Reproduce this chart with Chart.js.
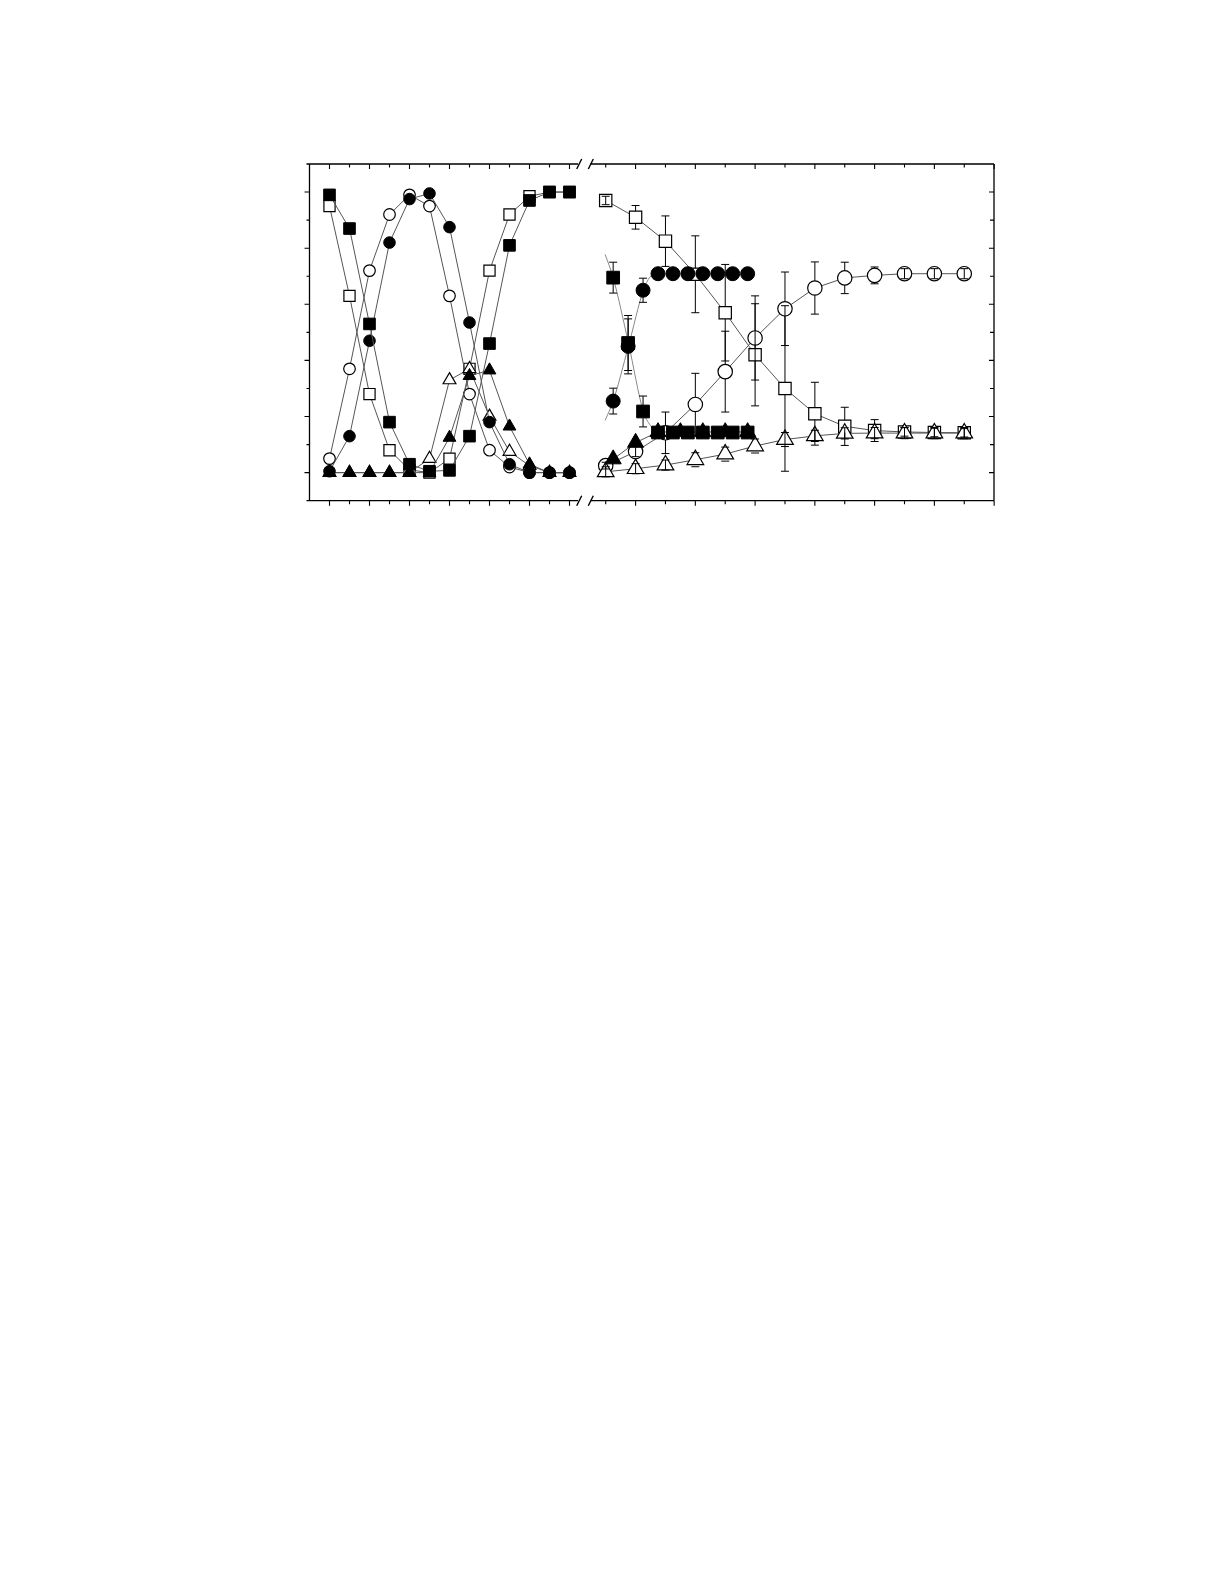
<!DOCTYPE html>
<html><head><meta charset="utf-8">
<script src="https://cdn.jsdelivr.net/npm/chart.js@4.4.0/dist/chart.umd.min.js"></script>
<style>html,body{margin:0;padding:0;background:#fff;}canvas{display:block;}</style>
</head><body>
<canvas id="c" width="1225" height="1585"></canvas>
<script>
// ---------------- DATA ----------------
// Left panel: sample index
const leftIndex = [1,2,3,4,5,6,7,8,9,10,11,12,13];
const leftFilledSquare = [0.99,0.87,0.53,0.18,0.03,0.005,0.008,0.13,0.46,0.81,0.97,1.0,1.0];
const leftOpenSquare   = [0.95,0.63,0.28,0.08,0.01,0.0,0.05,0.37,0.72,0.92,0.985,1.0,1.0];
const leftOpenCircle   = [0.05,0.37,0.72,0.92,0.99,0.95,0.63,0.28,0.08,0.02,0.0,0.0,0.0];
const leftFilledCircle = [0.005,0.13,0.47,0.82,0.975,0.995,0.875,0.535,0.18,0.03,0.0,0.0,0.0];
const leftFilledTri    = [0,0,0,0,0,0,0.125,0.345,0.365,0.165,0.03,0,0];
const leftOpenTri      = [0,0,0,0,0,0.05,0.33,0.37,0.20,0.075,0.025,0,0];

// Right panel: time
const rightT = [0,1,2,3,4,5,6,7,8,9,10,11,12];
const rightOpenSquare    = [0.97,0.91,0.825,0.707,0.57,0.42,0.30,0.21,0.165,0.15,0.145,0.143,0.142];
const rightOpenSquareErr = [0.015,0.042,0.09,0.137,0.172,0.182,0.295,0.112,0.068,0.039,0.015,0.015,0.015];
const rightOpenCircle    = [0.025,0.075,0.142,0.243,0.36,0.48,0.584,0.658,0.694,0.703,0.709,0.709,0.709];
const rightOpenCircleErr = [0.012,0.018,0.074,0.111,0.144,0.150,0.131,0.093,0.056,0.03,0.018,0.018,0.018];
const rightOpenTri       = [0.003,0.014,0.027,0.046,0.066,0.095,0.118,0.131,0.14,0.141,0.141,0.141,0.141];
const rightOpenTriErr    = [0.018,0.018,0.018,0.025,0.025,0.025,0.025,0.02,0.02,0.02,0.02,0.02,0.02];

const rightHalfT = [0.25,0.75,1.25,1.75,2.25,2.75,3.25,3.75,4.25,4.75];
const rightFilledCircle    = [0.255,0.45,0.65,0.709,0.709,0.709,0.709,0.709,0.709,0.709];
const rightFilledCircleErr = [0.046,0.098,0.043,0,0,0,0,0,0,0];
const rightFilledSquare    = [0.695,0.462,0.218,0.143,0.143,0.143,0.143,0.143,0.143,0.143];
const rightFilledSquareErr = [0.055,0.098,0.055,0,0,0,0,0,0,0];

const rightTriT = [0.25,1.0,1.75,2.5,3.25,4.0,4.75];
const rightFilledTri = [0.048,0.107,0.145,0.145,0.145,0.145,0.145];

// fitted curves
const curveDownT = [-0.02,0.25,0.76,1.26,1.54,1.7];
const curveDownV = [0.778,0.695,0.462,0.218,0.162,0.145];
const curveUpT   = [-0.02,0.25,0.76,1.26,1.48,1.65];
const curveUpV   = [0.186,0.255,0.45,0.650,0.697,0.709];

// ticks
const leftTicks  = [1,2,3,4,5,6,7,8,9,10,11,12,13];
const rightTicks = [0,1,2,3,4,5,6,7,8,9,10,11,12,13];
const yMajorTicks = [0,0.2,0.4,0.6,0.8,1.0];
const yMinorTicks = [0.1,0.3,0.5,0.7,0.9];

// ---------------- GEOMETRY ----------------
const AREA = {left:309.5, top:164, right:994, bottom:500.7};
const PX_PER_U = 20;
const U_MAX = (AREA.right - AREA.left) / PX_PER_U;
const R0 = (605.7 - AREA.left) / PX_PER_U;
const RK = 29.88 / PX_PER_U;
const leftU = i => i;
const rightU = t => R0 + t * RK;
const LEFT_END = (578 - AREA.left) / PX_PER_U;
const RIGHT_START = (590.5 - AREA.left) / PX_PER_U;

function pts(xs, ys, map) { return xs.map((v, i) => ({x: map(v), y: ys[i]})); }
function series(xs, ys, map, style, radius, filled, opts) {
  return Object.assign({
    data: pts(xs, ys, map),
    pointStyle: style, pointRadius: radius, pointHoverRadius: radius,
    pointBackgroundColor: filled ? '#000' : '#fff',
    pointBorderColor: '#000', pointBorderWidth: filled ? 1 : 1.2,
    borderColor: '#555', borderWidth: 1, tension: 0, fill: false, clip: false,
    showLine: true
  }, opts || {});
}
function curve(xs, ys) {
  return {
    data: pts(xs, ys, rightU), pointRadius: 0, pointHoverRadius: 0,
    borderColor: '#888', borderWidth: 1, fill: false, clip: false,
    cubicInterpolationMode: 'monotone', showLine: true
  };
}

const datasets = [
  // right panel (index 0 drawn on top)
  series(rightHalfT, rightFilledCircle, rightU, 'circle', 7, true, {showLine:false, errors: rightFilledCircleErr, errGap: 7}),
  series(rightHalfT, rightFilledSquare, rightU, 'rect', 9, true, {showLine:false, errors: rightFilledSquareErr, errGap: 6.4}),
  series(rightTriT, rightFilledTri, rightU, 'triangle', 9.3, true),
  series(rightT, rightOpenTri, rightU, 'triangle', 9.6, false, {errors: rightOpenTriErr, errGap: 7}),
  series(rightT, rightOpenCircle, rightU, 'circle', 7.2, false, {errors: rightOpenCircleErr, errGap: 7.2}),
  series(rightT, rightOpenSquare, rightU, 'rect', 8.7, false, {errors: rightOpenSquareErr, errGap: 6.2}),
  curve(curveDownT, curveDownV),
  curve(curveUpT, curveUpV),
  // left panel
  series(leftIndex, leftFilledSquare, leftU, 'rect', 8.2, true),
  series(leftIndex, leftFilledCircle, leftU, 'circle', 5.8, true),
  series(leftIndex, leftFilledTri, leftU, 'triangle', 7.4, true),
  series(leftIndex, leftOpenTri, leftU, 'triangle', 7.4, false),
  series(leftIndex, leftOpenCircle, leftU, 'circle', 5.8, false),
  series(leftIndex, leftOpenSquare, leftU, 'rect', 7.9, false)
];

const framePlugin = {
  id: 'frame',
  afterDatasetsDraw(chart) {
    const {ctx, chartArea: a} = chart;
    const x = chart.scales.x, y = chart.scales.y;
    const xl = a.left, xr = a.right, yt = a.top, yb = a.bottom;
    const bL = x.getPixelForValue(LEFT_END), bR = x.getPixelForValue(RIGHT_START);
    ctx.save();
    ctx.strokeStyle = '#000'; ctx.lineWidth = 1.3; ctx.lineCap = 'butt';
    ctx.beginPath();
    ctx.moveTo(xl, yt); ctx.lineTo(xl, yb);
    ctx.moveTo(xr, yt); ctx.lineTo(xr, yb);
    for (const yy of [yt, yb]) {
      ctx.moveTo(xl - 3, yy); ctx.lineTo(bL, yy);
      ctx.moveTo(bR, yy); ctx.lineTo(xr, yy);
    }
    ctx.stroke();
    // break marks
    ctx.lineWidth = 1.4;
    ctx.beginPath();
    for (const yy of [yt, yb]) {
      ctx.moveTo(bL - 1.3, yy + 5); ctx.lineTo(bL + 3.7, yy - 5);
      ctx.moveTo(bR - 2.2, yy + 5); ctx.lineTo(bR + 2.8, yy - 5);
    }
    ctx.stroke();
    // x ticks
    ctx.lineWidth = 1.1;
    ctx.beginPath();
    const xt = [];
    leftTicks.forEach(i => xt.push([x.getPixelForValue(leftU(i)), i % 2 === 1]));
    rightTicks.forEach(t => xt.push([x.getPixelForValue(rightU(t)), t % 2 === 1]));
    xt.forEach(([px, major]) => {
      const L = major ? 5 : 3.5;
      ctx.moveTo(px, yb); ctx.lineTo(px, yb + L);
      ctx.moveTo(px, yt); ctx.lineTo(px, yt + L);
    });
    // y ticks
    yMajorTicks.forEach(v => {
      const py = y.getPixelForValue(v);
      ctx.moveTo(xl, py); ctx.lineTo(xl - 5, py);
      ctx.moveTo(xr, py); ctx.lineTo(xr - 5, py);
    });
    yMinorTicks.forEach(v => {
      const py = y.getPixelForValue(v);
      ctx.moveTo(xl, py); ctx.lineTo(xl - 3, py);
      ctx.moveTo(xr, py); ctx.lineTo(xr - 4, py);
    });
    ctx.stroke();
    ctx.restore();
  }
};

const errPlugin = {
  id: 'errbars',
  afterDatasetsDraw(chart) {
    const ctx = chart.ctx, y = chart.scales.y;
    ctx.save();
    ctx.strokeStyle = '#000'; ctx.lineWidth = 1;
    chart.data.datasets.forEach((ds, di) => {
      if (!ds.errors) return;
      const meta = chart.getDatasetMeta(di);
      meta.data.forEach((pt, i) => {
        const e = ds.errors[i];
        if (!e) return;
        const v = ds.data[i].y;
        const px = pt.x, py = pt.y;
        const yTop = y.getPixelForValue(v + e), yBot = y.getPixelForValue(v - e);
        const g = ds.errGap || 0;
        const cw = 4;
        ctx.beginPath();
        if (py - yTop > g) {
          ctx.moveTo(px, yTop); ctx.lineTo(px, py - g);
          ctx.moveTo(px, py + g); ctx.lineTo(px, yBot);
        } else {
          ctx.moveTo(px, yTop); ctx.lineTo(px, yBot);
        }
        ctx.moveTo(px - cw, yTop); ctx.lineTo(px + cw, yTop);
        ctx.moveTo(px - cw, yBot); ctx.lineTo(px + cw, yBot);
        ctx.stroke();
      });
    });
    ctx.restore();
  }
};

new Chart(document.getElementById('c'), {
  type: 'line',
  data: { datasets },
  options: {
    responsive: false, animation: false, events: [],
    devicePixelRatio: 1,
    layout: { padding: { left: AREA.left, top: AREA.top, right: 1225 - AREA.right, bottom: 1585 - AREA.bottom } },
    scales: {
      x: { type: 'linear', display: false, min: 0, max: U_MAX },
      y: { type: 'linear', display: false, min: -0.1, max: 1.1 }
    },
    plugins: { legend: { display: false }, tooltip: { enabled: false } }
  },
  plugins: [framePlugin, errPlugin]
});
</script>
</body></html>
